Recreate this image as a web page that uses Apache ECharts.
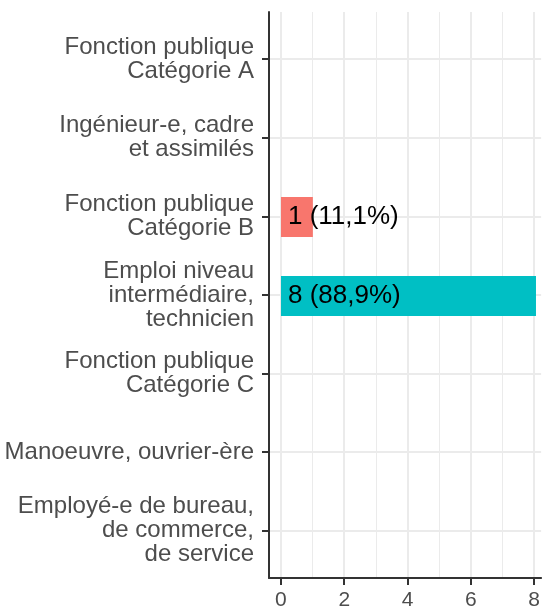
<!DOCTYPE html>
<html>
<head>
<meta charset="utf-8">
<script src="https://cdn.jsdelivr.net/npm/echarts@6/dist/echarts.min.js"></script>
<style>
  html, body { margin: 0; padding: 0; background: #fff; }
  #chart { width: 543px; height: 611px; }
</style>
</head>
<body>
<div id="chart"></div>
<script>
var categories = [
	'Fonction publique\nCatégorie A',
	'Ingénieur-e, cadre\net assimilés',
	'Fonction publique\nCatégorie B',
	'Emploi niveau\nintermédiaire,\ntechnicien',
	'Fonction publique\nCatégorie C',
	'Manoeuvre, ouvrier-ère',
	'Employé-e de bureau,\nde commerce,\nde service'
];
var counts = [0, 0, 1, 8, 0, 0, 0];
var majorTicks = [0, 2, 4, 6, 8];
var minorTicks = [1, 3, 5, 7];

var fontFamily = '"Liberation Sans", Arial, sans-serif';
var fills = ['#F8766D', '#00BFC4'];
var total = counts.reduce(function (a, b) { return a + b; }, 0);
var catPos = categories.map(function (c, i) { return i + 1; });
var xMin = -0.376, xMax = 8.22;

// bars: skip the empty categories, colour the others in order
var k = 0;
var barData = counts.map(function (v) {
	if (!v) return '-';
	return { value: v, itemStyle: { color: fills[k++] } };
});

function pctLabel(p) {
	var pct = (p.value / total * 100).toFixed(1).replace('.', ',');
	return p.value + ' (' + pct + '%)';
}

var chart = echarts.init(document.getElementById('chart'));
var option = {
	animation: false,
	backgroundColor: '#fff',
	grid: [
		// full panel (axes + grid lines), ggplot style expansion
		{ left: 269, right: 0, top: 12, bottom: 31 },
		// bars only, categories placed like the discrete scale
		{ left: 269, right: 0, top: 19.9, bottom: 38.9 }
	],
	xAxis: [
		{
			type: 'value', gridIndex: 0, min: xMin, max: xMax,
			axisLine: { show: true, onZero: false, lineStyle: { color: '#333', width: 2 } },
			axisTick: { show: true, length: 7, customValues: majorTicks, lineStyle: { color: '#333', width: 2 } },
			axisLabel: { customValues: majorTicks, margin: 12, fontSize: 21, color: '#4D4D4D', fontFamily: fontFamily },
			splitLine: { show: true, lineStyle: { color: '#EBEBEB', width: 2 } }
		},
		{
			type: 'value', gridIndex: 0, min: xMin, max: xMax,
			axisLine: { show: false }, axisLabel: { show: false },
			axisTick: { show: false, customValues: minorTicks },
			splitLine: { show: true, lineStyle: { color: '#EBEBEB', width: 1 } }
		},
		{
			type: 'value', gridIndex: 1, min: xMin, max: xMax, show: false,
			splitLine: { show: false }
		}
	],
	yAxis: [
		{
			type: 'value', gridIndex: 0, min: 0.4, max: 7.6, inverse: true,
			axisLine: { show: true, onZero: false, lineStyle: { color: '#333', width: 2 } },
			axisTick: { show: true, length: 7, customValues: catPos, lineStyle: { color: '#333', width: 2 } },
			axisLabel: {
				customValues: catPos, margin: 15, fontSize: 24, lineHeight: 24,
				color: '#4D4D4D', fontFamily: fontFamily, align: 'right',
				formatter: function (v) { return categories[v - 1]; }
			},
			splitLine: { show: true, lineStyle: { color: '#EBEBEB', width: 2 } }
		},
		{
			type: 'category', gridIndex: 1, inverse: true, data: categories, show: false
		}
	],
	series: [{
		type: 'bar',
		xAxisIndex: 2,
		yAxisIndex: 1,
		barWidth: 40,
		data: barData,
		label: {
			show: true,
			position: 'insideLeft',
			distance: 7,
			fontSize: 26,
			color: '#000',
			fontFamily: fontFamily,
			formatter: pctLabel
		}
	}]
};
chart.setOption(option);
</script>
</body>
</html>
